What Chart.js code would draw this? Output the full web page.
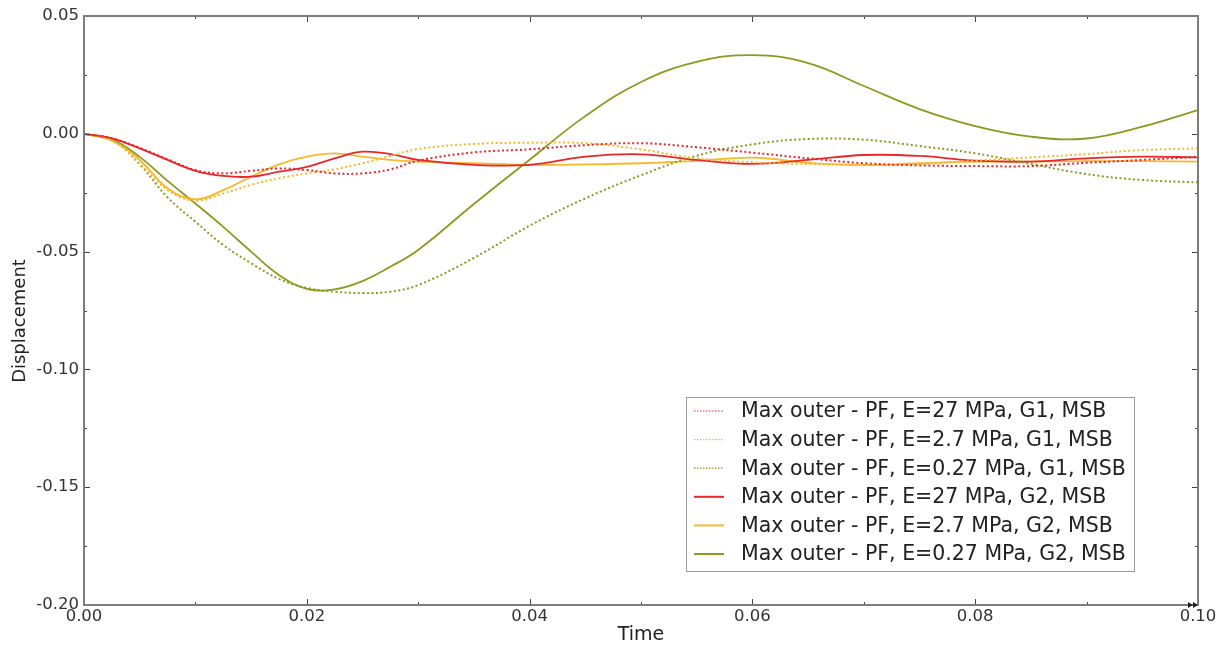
<!DOCTYPE html>
<html>
<head>
<meta charset="utf-8">
<title>Max outer displacement</title>
<script src="https://cdn.jsdelivr.net/npm/chart.js@4.4.1/dist/chart.umd.min.js"></script>
<style>
  html, body { margin: 0; padding: 0; background: #ffffff; }
  #wrap { width: 1227px; height: 648px; }
</style>
</head>
<body>
<div id="wrap"><canvas id="c" width="1227" height="648"></canvas></div>
<script>
// Sample times (s)
const time = [0, 0.0025, 0.005, 0.0075, 0.01, 0.0125, 0.015, 0.0175, 0.02, 0.0225,
  0.025, 0.0275, 0.03, 0.035, 0.04, 0.045, 0.05, 0.055, 0.06, 0.065,
  0.07, 0.075, 0.08, 0.085, 0.09, 0.095, 0.1];

// Displacement, G1 runs (dotted)
const g1E27 = [0, -0.0019, -0.0060, -0.0108, -0.0154, -0.0168, -0.0157, -0.0147, -0.0154, -0.0168,
  -0.0168, -0.0151, -0.0114, -0.0079, -0.0066, -0.0048, -0.0040, -0.0057, -0.0080, -0.0104,
  -0.0125, -0.0134, -0.0137, -0.0137, -0.0123, -0.0111, -0.0097];
const g1E2_7 = [0, -0.0026, -0.0125, -0.0239, -0.0284, -0.0253, -0.0217, -0.0189, -0.0168, -0.0151,
  -0.0125, -0.0094, -0.0064, -0.0043, -0.0038, -0.0040, -0.0066, -0.0104, -0.0121, -0.0128,
  -0.0132, -0.0128, -0.0114, -0.0100, -0.0086, -0.0069, -0.0062];
const g1E0_27 = [0, -0.0026, -0.0130, -0.0270, -0.0373, -0.0472, -0.0549, -0.0616, -0.0654, -0.0670,
  -0.0676, -0.0670, -0.0642, -0.0527, -0.0390, -0.0274, -0.0176, -0.0093, -0.0045, -0.0022,
  -0.0025, -0.0052, -0.0083, -0.0128, -0.0171, -0.0196, -0.0206];

// Displacement, G2 runs (solid)
const g2E27 = [0, -0.0019, -0.0062, -0.0111, -0.0157, -0.0179, -0.0182, -0.0161, -0.0140, -0.0104,
  -0.0076, -0.0086, -0.0111, -0.0132, -0.0132, -0.0097, -0.0087, -0.0111, -0.0128, -0.0111,
  -0.0090, -0.0094, -0.0114, -0.0118, -0.0104, -0.0097, -0.0100];
const g2E2_7 = [0, -0.0029, -0.0111, -0.0231, -0.0278, -0.0239, -0.0182, -0.0130, -0.0097, -0.0083,
  -0.0097, -0.0111, -0.0118, -0.0125, -0.0132, -0.0130, -0.0125, -0.0115, -0.0101, -0.0123,
  -0.0132, -0.0125, -0.0118, -0.0118, -0.0116, -0.0116, -0.0118];
const g2E0_27 = [0, -0.0024, -0.0098, -0.0200, -0.0296, -0.0395, -0.0500, -0.0599, -0.0658, -0.0660,
  -0.0625, -0.0564, -0.0493, -0.0298, -0.0110, 0.0075, 0.0220, 0.0305, 0.0334, 0.0300,
  0.0203, 0.0105, 0.0033, -0.0012, -0.0020, 0.0030, 0.0101];

const seriesLabels = [
  'Max outer - PF, E=27 MPa, G1, MSB',
  'Max outer - PF, E=2.7 MPa, G1, MSB',
  'Max outer - PF, E=0.27 MPa, G1, MSB',
  'Max outer - PF, E=27 MPa, G2, MSB',
  'Max outer - PF, E=2.7 MPa, G2, MSB',
  'Max outer - PF, E=0.27 MPa, G2, MSB'
];
const seriesValues = [g1E27, g1E2_7, g1E0_27, g2E27, g2E2_7, g2E0_27];

const xTickValues = [0, 0.02, 0.04, 0.06, 0.08, 0.1];
const yTickValues = [0.05, 0, -0.05, -0.1, -0.15, -0.2];

const RED = '#e8262c';
const YELLOW = '#f8b82e';
const OLIVE = '#8c9a1f';
const seriesColors = [RED, YELLOW, OLIVE, RED, YELLOW, OLIVE];
const DOT = [2, 2.5];

const FONT = '"DejaVu Sans", Verdana, sans-serif';

const datasets = seriesValues.map((vals, i) => ({
  label: seriesLabels[i],
  data: time.map((t, k) => ({ x: t, y: vals[k] })),
  borderColor: seriesColors[i],
  backgroundColor: seriesColors[i],
  borderWidth: i < 3 ? 2 : 1.8,
  borderDash: i < 3 ? DOT : [],
  pointRadius: 0,
  fill: false,
  tension: 0.4
}));

// Frame, inward tick marks on all four sides, axis end marker, y title and legend box
const framePlugin = {
  id: 'frameAndLegend',
  afterDraw(chart) {
    const ctx = chart.ctx;
    const a = chart.chartArea;
    const xs = chart.scales.x, ys = chart.scales.y;
    ctx.save();

    // ticks (major every label, minor halfway)
    ctx.strokeStyle = '#444';
    ctx.lineWidth = 1;
    ctx.beginPath();
    for (let k = 0; k <= 10; k++) {
      const px = Math.round(xs.getPixelForValue(k * 0.01)) + 0.5;
      const len = k % 2 === 0 ? 6 : 3;
      ctx.moveTo(px, a.bottom); ctx.lineTo(px, a.bottom - len);
      ctx.moveTo(px, a.top); ctx.lineTo(px, a.top + len);
    }
    for (let k = 0; k <= 10; k++) {
      const py = Math.round(ys.getPixelForValue(-0.2 + k * 0.025)) + 0.5;
      const len = k % 2 === 0 ? 6 : 3;
      ctx.moveTo(a.left, py); ctx.lineTo(a.left + len, py);
      ctx.moveTo(a.right, py); ctx.lineTo(a.right - len, py);
    }
    ctx.stroke();

    // frame
    ctx.strokeStyle = '#7c7c7c';
    ctx.lineWidth = 2;
    ctx.strokeRect(a.left, a.top, a.right - a.left, a.bottom - a.top);

    // small double arrowhead at the end of the time axis
    ctx.fillStyle = '#222';
    [a.right - 10, a.right - 5].forEach(x0 => {
      ctx.beginPath();
      ctx.moveTo(x0, a.bottom - 3);
      ctx.lineTo(x0 + 5, a.bottom);
      ctx.lineTo(x0, a.bottom + 3);
      ctx.closePath();
      ctx.fill();
    });

    // y axis title
    ctx.save();
    ctx.translate(20, 321);
    ctx.rotate(-Math.PI / 2);
    ctx.font = '18px ' + FONT;
    ctx.fillStyle = '#222';
    ctx.textAlign = 'center';
    ctx.textBaseline = 'middle';
    ctx.fillText('Displacement', 0, 0);
    ctx.restore();

    // legend
    const lx = 686, ly = 397, lw = 448, lh = 174;
    ctx.fillStyle = '#ffffff';
    ctx.fillRect(lx, ly, lw, lh);
    ctx.strokeStyle = '#9a9a9a';
    ctx.lineWidth = 1;
    ctx.strokeRect(lx + 0.5, ly + 0.5, lw, lh);
    ctx.font = '20.5px ' + FONT;
    ctx.textBaseline = 'middle';
    ctx.textAlign = 'left';
    chart.data.datasets.forEach((ds, i) => {
      const cy = ly + 14 + i * 28.6;
      ctx.strokeStyle = ds.borderColor;
      ctx.lineWidth = i < 3 ? 1.2 : 2;
      ctx.setLineDash(i < 3 ? [1.5, 1.5] : []);
      ctx.beginPath();
      ctx.moveTo(lx + 8, cy);
      ctx.lineTo(lx + 38, cy);
      ctx.stroke();
      ctx.setLineDash([]);
      ctx.fillStyle = '#222';
      ctx.fillText(ds.label, lx + 55, cy + 1);
    });
    ctx.restore();
  }
};

new Chart(document.getElementById('c'), {
  type: 'line',
  data: { datasets },
  options: {
    responsive: false,
    animation: false,
    devicePixelRatio: 1,
    layout: { padding: { top: 16, right: 29, left: 0, bottom: 0 } },
    plugins: { legend: { display: false }, tooltip: { enabled: false } },
    scales: {
      x: {
        type: 'linear',
        min: 0,
        max: 0.1,
        afterFit(s) { s.height = 43; },
        afterBuildTicks(s) { s.ticks = xTickValues.map(v => ({ value: v })); },
        ticks: {
          padding: 2,
          color: '#333',
          font: { family: FONT, size: 16.5 },
          maxRotation: 0,
          autoSkip: false,
          callback: v => v.toFixed(2)
        },
        grid: { display: false, drawTicks: false },
        border: { display: false },
        title: {
          display: true,
          text: 'Time',
          color: '#222',
          font: { family: FONT, size: 19 },
          padding: { top: 0, bottom: 2 }
        }
      },
      y: {
        type: 'linear',
        min: -0.2,
        max: 0.05,
        afterFit(s) { s.width = 84; },
        afterBuildTicks(s) { s.ticks = yTickValues.map(v => ({ value: v })); },
        ticks: {
          padding: 5,
          color: '#333',
          font: { family: FONT, size: 16.5 },
          autoSkip: false,
          callback: v => v.toFixed(2)
        },
        grid: { display: false, drawTicks: false },
        border: { display: false },
        title: { display: false }
      }
    }
  },
  plugins: [framePlugin]
});
</script>
</body>
</html>
